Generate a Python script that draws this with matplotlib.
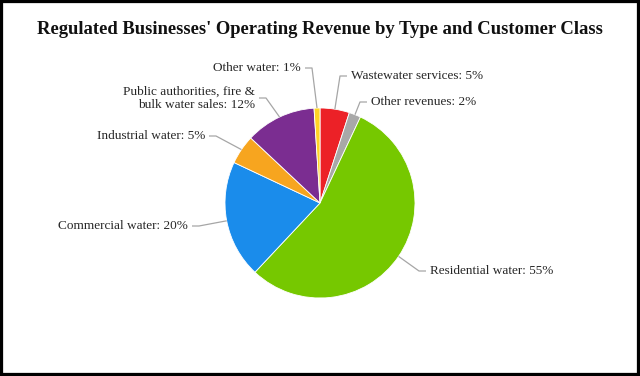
import matplotlib
matplotlib.use("Agg")
import matplotlib.pyplot as plt
import numpy as np
from matplotlib.patches import Rectangle

categories = ["Wastewater services", "Other revenues", "Residential water",
              "Commercial water", "Industrial water",
              "Public authorities, fire &\nbulk water sales", "Other water"]
values = [5, 2, 55, 20, 5, 12, 1]
colors = ["#EC2127", "#A8A8A8", "#76C800", "#1A8CEB", "#F7A51F", "#7B2D91", "#FFD325"]
title = "Regulated Businesses' Operating Revenue by Type and Customer Class"

# label layout in pixel coords (x, y from top, ha)
label_pos = [(351, 76, "left"), (371, 102, "left"), (430, 271, "left"),
             (188, 226, "right"), (205, 136, "right"), (255, 98, "right"),
             (301, 68, "right")]

W, H = 640, 376
fig = plt.figure(figsize=(6.4, 3.76), dpi=100)
ax = fig.add_axes([0, 0, 1, 1])
cx, cy, r = 320, H - 203, 95
wedges, _ = ax.pie(values, colors=colors, startangle=90, counterclock=False,
                   center=(cx, cy), radius=r,
                   wedgeprops=dict(edgecolor="white", linewidth=0.6))
ax.set_xlim(0, W)
ax.set_ylim(0, H)
ax.set_aspect("equal")
ax.axis("off")

font = "Liberation Serif"
for w, cat, val, (tx, ty, ha) in zip(wedges, categories, values, label_pos):
    mid = np.deg2rad((w.theta1 + w.theta2) / 2)
    ex, ey = cx + r * np.cos(mid), cy + r * np.sin(mid)
    ty_d = H - ty
    ax.text(tx, ty_d, f"{cat}: {val}%", ha=ha, va="center", fontsize=9.5,
            family=font, color="#262626", linespacing=1.15,
            multialignment="right" if ha == "right" else "left")
    sx = tx - 4 if ha == "left" else tx + 4
    kx = sx - 7 if ha == "left" else sx + 7
    ax.plot([sx, kx, ex], [ty_d, ty_d, ey], color="#A6A6A6", lw=0.9,
            solid_capstyle="butt")

fig.text(0.5, 1 - 30 / H, title, ha="center", va="center", fontsize=13.4,
         fontweight="bold", family=font, color="#111111")
fig.patches.append(Rectangle((0, 0), 1, 1, transform=fig.transFigure,
                             fill=False, edgecolor="black", linewidth=4.5))
fig.savefig("out.png", dpi=100)
